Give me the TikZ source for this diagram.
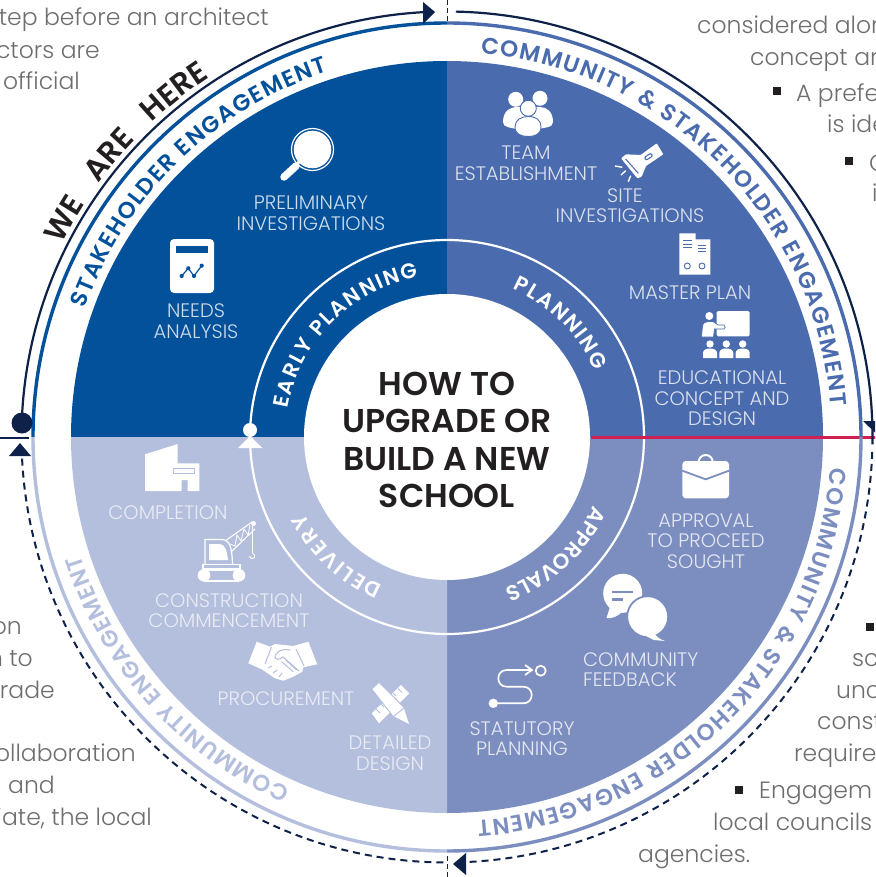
\documentclass[tikz,border=0pt]{standalone}
\usepackage{fontspec}
\usetikzlibrary{decorations.text}
\setmainfont{Poppins}
\newfontfamily\lightf{Poppins Light}
\newfontfamily\semif{Poppins SemiBold}
\newfontfamily\medf{Poppins Medium}
\definecolor{qa}{HTML}{03509B}
\definecolor{qb}{HTML}{4A6BAD}
\definecolor{qc}{HTML}{7C8EBF}
\definecolor{qd}{HTML}{B4BEDD}
\definecolor{navy}{HTML}{0E2148}
\definecolor{ink}{HTML}{231F20}
\definecolor{greytxt}{HTML}{6D6E70}
\definecolor{crim}{HTML}{D11F51}
\newcommand\curvetxt[1]{\semif\fontsize{23}{23}\selectfont\color{#1}}
\newcommand\innertxt[1]{\semif\fontsize{21.3}{21.3}\selectfont\color{#1}}
\tikzset{
  body/.style={font=\lightf\fontsize{23.5}{26}\selectfont,text=greytxt,inner sep=0pt,yshift=-1.5pt},
  lbl/.style={font=\lightf\fontsize{19.5}{20.5}\selectfont,align=center,inner sep=0pt},
  lbla/.style={lbl,text=white!80!qa},
  lblb/.style={lbl,text=white!80!qb},
  lblc/.style={lbl,text=white!80!qc},
  lbld/.style={lbl,text=white!70!qd},
  bull/.style={fill=ink,minimum size=8pt,inner sep=0pt,draw=none},
  navyarc/.style={draw=navy,line width=2.2pt},
  navydash/.style={draw=navy,line width=2pt,dash pattern=on 7pt off 5pt},
}
\begin{document}
\begin{tikzpicture}[x=1pt,y=1pt]
\useasboundingbox (0,-877) rectangle (875,0);
\clip (0,-877) rectangle (875,0);
\fill[white] (0,-877) rectangle (875,0);

% ---------- surrounding text
\begin{scope}[x=1pt,y=-1pt]
\node[body,anchor=base east] (ta) at (269,24) {tep before an architect};
\node[body,anchor=base east] (tb) at (100,57) {ctors are};
\node[body,anchor=base east] (tc) at (80,88) {official};
\node[body,anchor=base west] (td) at (697,32) {considered alon};
\node[body,anchor=base west] (te) at (750,64) {concept ar};
\node[bull] (ba) at (777,91) {};
\node[body,anchor=base west] (tf) at (796,100) {A prefe};
\node[body,anchor=base west] (tg) at (827,131) {is ide};
\node[bull] (bb) at (849,161) {};
\node[body,anchor=base west] (th) at (869,170) {C};
\node[body,anchor=base west] (ti) at (872,200) {i};
\node[bull] (bc) at (870,627) {};
\node[body,anchor=base west] (tj) at (852,665) {sc};
\node[body,anchor=base west] (tk) at (836,697) {unc};
\node[body,anchor=base west] (tl) at (817,728) {const};
\node[body,anchor=base west] (tm) at (794,760) {require};
\node[bull] (bd) at (739,790) {};
\node[body,anchor=base west] (tn) at (759,797) {Engagem};
\node[body,anchor=base west] (to) at (713,829) {local councils};
\node[body,anchor=base west] (tp) at (638,861) {agencies.};
\node[body,anchor=base east] (tq) at (22,633) {on};
\node[body,anchor=base east] (tr) at (33,665) {n to};
\node[body,anchor=base east] (ts) at (55,697) {rade};
\node[body,anchor=base east] (tt) at (136,760) {ollaboration};
\node[body,anchor=base east] (tu) at (55,792) {l and};
\node[body,anchor=base east] (tv) at (152,824) {iate, the local};
\end{scope}

% ---------- the wheel
\begin{scope}[shift={(447,-437)}]
\fill[qa] (0,0) -- (90:376) arc[start angle=90,end angle=180,radius=376] -- cycle;
\fill[qb] (0,0) -- (0:376) arc[start angle=0,end angle=90,radius=376] -- cycle;
\fill[qc] (0,0) -- (-90:376) arc[start angle=-90,end angle=0,radius=376] -- cycle;
\fill[qd] (0,0) -- (180:376) arc[start angle=180,end angle=270,radius=376] -- cycle;
\draw[white,line width=2.2pt] (0,0) circle[radius=197];
\draw[crim,line width=3pt] (144,0) -- (430,0);
\fill[white] (0,0) circle[radius=143];

\draw[qa,line width=3.4pt] (180:414) arc[start angle=180,end angle=90,radius=414];
\draw[qb,line width=3.4pt] (90:414) arc[start angle=90,end angle=0,radius=414];
\draw[qc,line width=3.4pt] (0:414) arc[start angle=0,end angle=-90,radius=414];
\draw[qd,line width=3.4pt] (-90:414) arc[start angle=-90,end angle=-180,radius=414];

\draw[navyarc] (178:425.5) arc[start angle=178,end angle=93,radius=425.5];
\draw[navyarc] (88.8:425.5) arc[start angle=88.8,end angle=-1,radius=425.5];
\draw[navydash] (-2:425.5) arc[start angle=-2,end angle=-87.5,radius=425.5];
\draw[navydash] (-90.5:425.5) arc[start angle=-90.5,end angle=-177.5,radius=425.5];

% curved texts
\path[decorate,decoration={text along path,text align={fit to path},text={|\curvetxt{qa}|STAKEHOLDER ENGAGEMENT}}]
  (160.5:384) arc[start angle=160.5,end angle=108,radius=384];
\path[decorate,decoration={text along path,text align={fit to path},text={|\curvetxt{qb}|COMMUNITY {\&} STAKEHOLDER ENGAGEMENT}}]
  (85:385) arc[start angle=85,end angle=4.5,radius=385];
\path[decorate,decoration={text along path,text align={fit to path},text={|\curvetxt{qc}|COMMUNITY {\&} STAKEHOLDER ENGAGEMENT}}]
  (-4.6:385) arc[start angle=-4.6,end angle=-85.5,radius=385];
\path[decorate,decoration={text along path,text align={fit to path},text={|\curvetxt{qd}|COMMUNITY ENGAGEMENT}}]
  (-114:385) arc[start angle=-114,end angle=-162.2,radius=385];
\path[decorate,decoration={text along path,text align={fit to path stretching spaces},text={|\semif\fontsize{30.5}{30.5}\selectfont\color{ink}|WE ARE HERE}}]
  (153.5:431) arc[start angle=153.5,end angle=123.4,radius=431];
\path[decorate,decoration={text along path,text align={fit to path},text={|\innertxt{white}|EARLY PLANNING}}]
  (170:162) arc[start angle=170,end angle=100,radius=162];
\path[decorate,decoration={text along path,text align={fit to path},text={|\innertxt{white}|PLANNING}}]
  (66:162) arc[start angle=66,end angle=24,radius=162];
\path[decorate,decoration={text along path,text align={fit to path},text={|\innertxt{white}|APPROVALS}}]
  (-25:162) arc[start angle=-25,end angle=-67,radius=162];
\path[decorate,decoration={text along path,text align={fit to path},text={|\innertxt{white}|DELIVERY}}]
  (-113.5:162) arc[start angle=-113.5,end angle=-152,radius=162];
\end{scope}

\begin{scope}[x=1pt,y=-1pt]
% lines and arrowheads
\draw[navy,line width=1.4pt] (0,438) -- (29,438);
\fill[navy] (22,423) circle[radius=10.5];
\fill[white] (250,430) circle[radius=7];
\fill[white] (250,436) -- (262.5,448) -- (238,448) -- cycle;
\fill[navy] (435,12) -- (423,2) -- (423,24) -- cycle;
\fill[navy] (863,421) -- (888,421) -- (875.5,433) -- cycle;
\fill[navy] (453,864) -- (466,853) -- (466,875) -- cycle;
\fill[navy] (20,443) -- (31,456) -- (9,456) -- cycle;
\draw[navy,line width=1pt,dash pattern=on 5pt off 3pt] (447,0) -- (447,21);
\draw[navy,line width=1pt,dash pattern=on 5pt off 3pt] (447,856) -- (447,877);

% centre title
\node[font=\semif\fontsize{33}{37.5}\selectfont,text=ink,align=center,inner sep=0pt] (title) at (447,440) {HOW TO\\UPGRADE OR\\BUILD A NEW\\SCHOOL};

% labels
\node[lbla] (l1) at (311,213) {PRELIMINARY\\INVESTIGATIONS};
\node[lbla] (l2) at (196,321) {NEEDS\\ANALYSIS};
\node[lblb] (l3) at (526,163) {TEAM\\ESTABLISHMENT};
\node[lblb] (l4) at (630,205.5) {SITE\kern10pt\\INVESTIGATIONS};
\node[lblb] (l5) at (690,293) {MASTER PLAN};
\node[lblb] (l6) at (722,398.5) {EDUCATIONAL\\CONCEPT AND\\DESIGN};
\node[lblc] (l7) at (706,541) {APPROVAL\\TO PROCEED\\SOUGHT};
\node[lblc,align=left,anchor=west] (l8) at (583,669.5) {COMMUNITY\\FEEDBACK};
\node[lblc] (l9) at (522,738.5) {STATUTORY\\PLANNING};
\node[lbld] (l10) at (390,753) {DETAILED\\DESIGN};
\node[lbld] (l11) at (286,699) {PROCUREMENT};
\node[lbld] (l12) at (229,610.5) {CONSTRUCTION\\COMMENCEMENT};
\node[lbld] (l13) at (168,513) {COMPLETION};

% magnifier
\draw[white,line width=1.2pt] (312.5,149.5) circle[radius=21];
\fill[white] (312.5,149.5) circle[radius=18.8];
\draw[white,line width=7.5pt,line cap=round] (296,166) -- (284,177);
\draw[white,line width=3pt] (299,162) -- (294,167);

% card
\fill[white,rounded corners=4pt] (170,239) rectangle (214,293);
\fill[qa] (176,245.5) rectangle (207.5,253);
\draw[qa,line width=1.2pt] (181.7,276) -- (188.3,268.3) -- (194,276) -- (201.7,265.7);
\foreach \p in {(181.7,276),(188.3,268.3),(194,276),(201.7,265.7)} \fill[qa] \p circle[radius=2.1];

% people
\fill[white] (515.7,99.3) circle[radius=7.5];
\fill[white] (540,98.3) circle[radius=7.5];
\fill[white] (503,122) .. controls (503,111) and (510,107) .. (518,107) -- (540,107) .. controls (547,107) and (553,112) .. (553,122) .. controls (553,128) and (545,127) .. (535,130) -- (520,130) .. controls (510,127) and (503,128) .. (503,122) -- cycle;
\fill[white,draw=qb,line width=.9pt] (528.3,108.3) circle[radius=8];
\fill[white,draw=qb,line width=.9pt] (515,127) .. controls (515,120) and (521,116.5) .. (528.3,116.5) .. controls (536,116.5) and (541,120) .. (541,127) .. controls (541,134) and (535,136.5) .. (528.3,136.5) .. controls (521,136.5) and (515,134) .. (515,127) -- cycle;

% flashlight
\fill[white,rounded corners=.8pt] (621,158.3) -- (626,154.3) -- (640.7,155) -- (656.7,143.3) -- (663.3,154.3) -- (646,166) -- (641.7,176.7) -- (637.3,178.3) -- cycle;
\draw[qb,line width=1pt] (625.7,159) -- (638.3,173.3);
\draw[qb,line width=4.4pt,line cap=round] (646.5,158) -- (650.5,155.4);
\draw[white,line width=2pt,line cap=round] (646.5,158) -- (650.5,155.4);
\draw[white,line width=1.4pt] (615,166) -- (622.3,167.3) (621,175) -- (625.7,170.7) (628.3,181.7) -- (630.7,175.7);

% master plan
\fill[white] (679.3,233.3) -- (695.7,233.3) -- (695.7,239.3) -- (710.3,239.3) -- (710.3,274.7) -- (679.3,274.7) -- cycle;
\draw[qb,line width=1pt] (683.3,240.7) -- (691.7,240.7) (683.3,244) -- (691.7,244) (683.3,247.7) -- (691.7,247.7) (698.3,245.7) -- (706,245.7) (698.3,248.3) -- (706,248.3) (698.3,251.7) -- (706,251.7);
\draw[qb,line width=.9pt] (687.3,266) circle[radius=3] (702,266) circle[radius=3];

% teacher
\fill[white,rounded corners=1.5pt] (716.7,311) rectangle (749.7,336.3);
\fill[white] (709.3,316) circle[radius=4];
\fill[white,draw=qb,line width=.7pt] (701.5,337) -- (702.5,326) .. controls (703,322.5) and (706,321.5) .. (709,321.5) -- (713,321.5) -- (718,325) -- (724,325) .. controls (725.5,325.5) and (725.5,329) .. (724,329) -- (714.5,329) -- (713.5,337) -- cycle;
% audience
\foreach \xx in {710,726.3,742.7} {
  \fill[white] (\xx,344) circle[radius=3.7];
  \fill[white] (\xx-7,358) -- (\xx-7,353) .. controls (\xx-7,350) and (\xx-4,348.5) .. (\xx,348.5) .. controls (\xx+4,348.5) and (\xx+7,350) .. (\xx+7,353) -- (\xx+7,358) -- cycle;
}

% briefcase
\draw[white,line width=2pt] (698.7,462) arc[start angle=180,end angle=360,radius=7];
\fill[white,rounded corners=3.5pt] (682.3,461) rectangle (729,498.3);
\draw[qc,line width=1.8pt] (682.3,470.7) -- (705.7,479.3) -- (729,470.7);

% chat bubbles
\fill[white] (622.7,593.3) circle[radius=19.5];
\fill[white] (610,607) -- (606.5,618) .. controls (612,619) and (618,616) .. (622,612) -- cycle;
\draw[qc,line width=2.4pt] (611.7,591.7) -- (633.3,591.7) (611.7,599.3) -- (622.7,599.3);
\fill[white,draw=qc,line width=1.8pt] (647.7,616.7) circle[radius=20.5];
\fill[white] (655,634) .. controls (657,637) and (660,639.5) .. (665,641) -- (654,640) -- (646,636) -- cycle;

% route
\fill[white] (493.3,703.3) circle[radius=4.7];
\draw[white,line width=1.7pt] (493.3,703.3) -- (523.3,703.3) .. controls (534.5,703.3) and (534.5,686.7) .. (523.3,686.7) -- (506.7,686.7) .. controls (495.5,686.7) and (495.5,670) .. (506.7,670) -- (531,670);
\draw[white,line width=1.7pt] (525,665) -- (532,670) -- (525,675);
\draw[white,line width=1.7pt] (540.7,670.7) circle[radius=5];

% ruler and pencil
\fill[white] (371.7,713.3) -- (401,685) -- (409.3,693.3) -- (379,723.3) -- cycle;
\draw[qd,line width=.9pt] (376,709) -- (380,713) (381,704) -- (384,707) (386,699.5) -- (389,702.5) (398,688.5) -- (402,692.5) (393,693) -- (396,696);
\fill[white,draw=qd,line width=.9pt] (371.7,689) -- (379,682.3) -- (404.3,707.7) -- (410,725) -- (393.3,716.7) -- cycle;
\draw[qd,line width=.9pt] (393.3,716.7) -- (404.3,707.7);

% handshake
\fill[white] (256.7,641.7) -- (270,646.7) -- (275,644) -- (293.3,646) -- (308.3,641.7) -- (317.3,664.3) -- (303.3,667.3) -- (302.3,671.7) -- (293.3,676.7) -- (283.3,680.7) -- (275,678.3) -- (261.7,669.3) -- (248.3,663.3) -- cycle;
\draw[qd,line width=1pt] (271.5,647) -- (265,664);
\draw[qd,line width=1pt] (304,666) -- (296,649);
\draw[qd,line width=1pt] (290,650) .. controls (280,648) and (274,654) .. (275,658) .. controls (276,660) and (279,660) .. (283,657) -- (299,671);
\draw[qd,line width=1pt] (281.7,661.7) -- (293.3,671.7) (285.7,660) -- (296.7,670);
\draw[qd,line width=1pt] (268,668) -- (272,666) (273,673) -- (277,670) (279,677) -- (282,673);

% completion building
\fill[white] (145,454.3) -- (177.7,444) -- (177.7,463.3) -- (199.3,463.3) -- (199.3,491) -- (187.7,491) -- (187.7,480) -- (181.7,480) -- (181.7,491) -- (145,491) -- cycle;
\draw[qd,line width=1.2pt] (173.8,468.6) rectangle (194.7,473.7);

% crane
\draw[white,line width=1.2pt] (205,564) -- (205,539.5) -- (222,539.5) .. controls (230,540) and (232,548) .. (232.5,564);
\fill[white] (209,560) -- (209,544) -- (220,544) .. controls (226,545) and (227,552) .. (228,560) -- cycle;
\draw[white,line width=1.2pt] (203,564.5) rectangle (240,568.5);
\draw[white,line width=1.2pt] (204,570) -- (239,570) (204,581) -- (239,581);
\fill[white] (204,575.3) circle[radius=6.3] (239,575.3) circle[radius=6.3];
\draw[white,line width=1.1pt] (225,541) -- (252,522) (232,551) -- (255,529);
\draw[white,line width=.8pt] (230,544) -- (235,546) -- (237,535) -- (241,541) -- (244,529) -- (248,535) -- (250,525);
\fill[white] (253.5,523.5) circle[radius=2.5];
\draw[white,line width=1pt] (252.5,525) -- (252.5,553);
\draw[white,line width=1pt] (252.5,553) -- (254.5,555) .. controls (256,559) and (250,560) .. (249.5,556);
\end{scope}
\end{tikzpicture}
\end{document}
